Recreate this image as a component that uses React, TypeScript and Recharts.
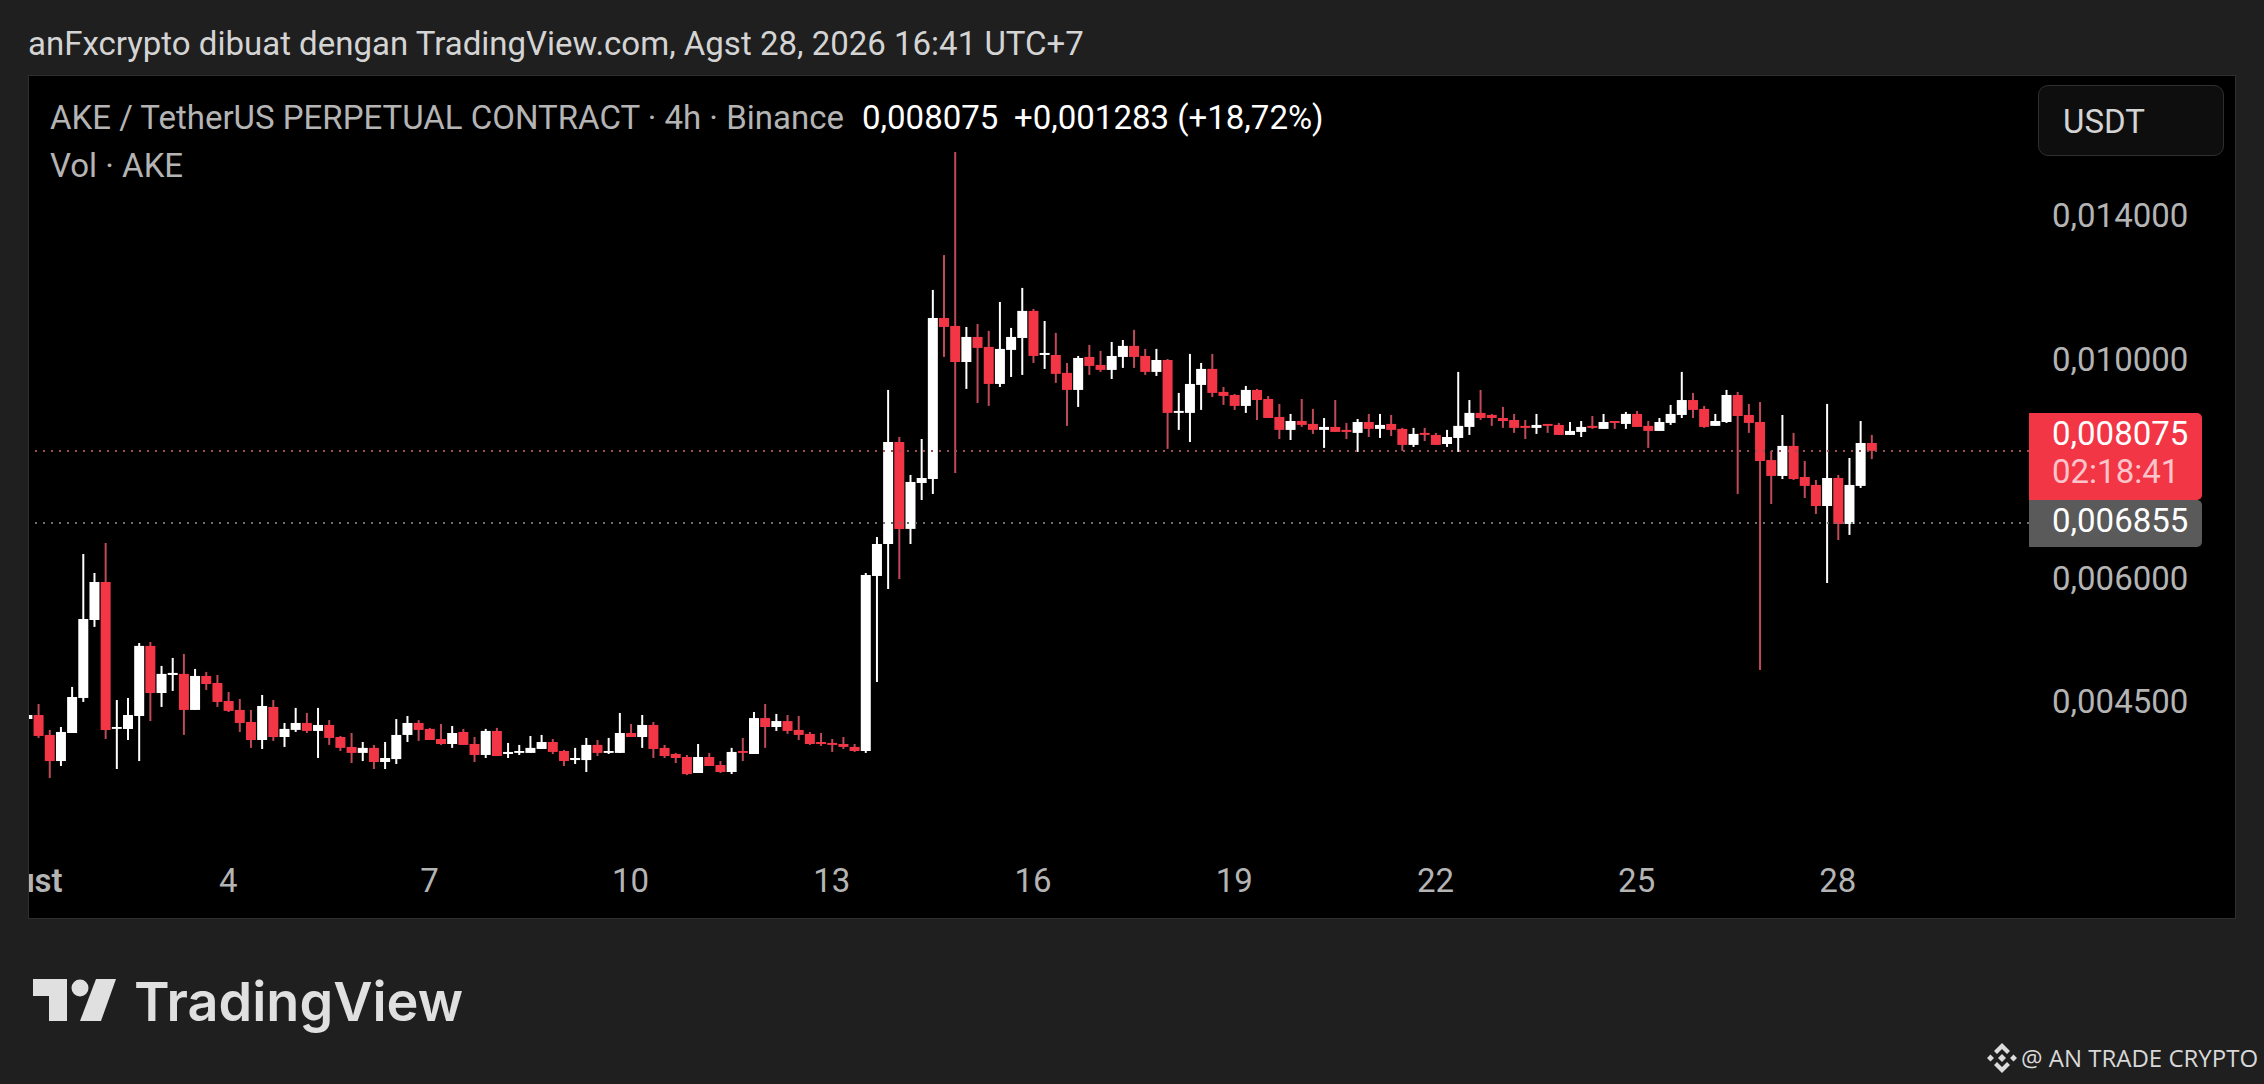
import { Bar, Cell, ComposedChart, ReferenceLine, XAxis, YAxis } from 'recharts'

const highs = [
  0.00436, 0.004474, 0.004211, 0.00424, 0.004655, 0.006348, 0.006073, 0.006513, 0.004515, 0.004537,
  0.005158, 0.00517, 0.004889, 0.004981, 0.005028, 0.004855, 0.004821, 0.004787, 0.004601, 0.004526,
  0.004412, 0.004569, 0.004515, 0.00428, 0.004433, 0.004381, 0.004433, 0.004309, 0.004152, 0.004181,
  0.004094, 0.004066, 0.004094, 0.004319, 0.00435, 0.004309, 0.004231, 0.00427, 0.00425, 0.004221,
  0.004142, 0.004221, 0.004231, 0.004085, 0.004066, 0.004152, 0.004162, 0.004123, 0.004019, 0.004038,
  0.004133, 0.004113, 0.004133, 0.004381, 0.00427, 0.00436, 0.00429, 0.004066, 0.003991, 0.003972,
  0.004075, 0.003991, 0.003916, 0.004038, 0.004133, 0.004391, 0.004474, 0.004371, 0.00436, 0.00435,
  0.004191, 0.004181, 0.004123, 0.004142, 0.004075, 0.006073, 0.006605, 0.009309, 0.008341, 0.007634,
  0.008302, 0.011756, 0.012752, 0.016216, 0.010783, 0.010858, 0.010684, 0.01143, 0.010758, 0.011811,
  0.011246, 0.010933, 0.010634, 0.009914, 0.010077, 0.010339, 0.010196, 0.010411, 0.010459, 0.010709,
  0.010244, 0.010244, 0.010006, 0.009244, 0.010125, 0.009914, 0.010125, 0.009374, 0.009222, 0.009396,
  0.009331, 0.009179, 0.00901, 0.008802, 0.009114, 0.008906, 0.008719, 0.009092, 0.008619, 0.008699,
  0.008802, 0.008802, 0.008781, 0.00852, 0.00852, 0.00852, 0.008421, 0.00848, 0.009709, 0.009092,
  0.009309, 0.008802, 0.008947, 0.008802, 0.008678, 0.008802, 0.008599, 0.008619, 0.008638, 0.008658,
  0.00876, 0.008802, 0.008658, 0.008844, 0.008864, 0.008658, 0.008719, 0.008989, 0.009709, 0.009244,
  0.008968, 0.008802, 0.009309, 0.009266, 0.00901, 0.009051, 0.008074, 0.008781, 0.008421, 0.007886,
  0.007544, 0.00901, 0.007634, 0.007942, 0.008658, 0.008381,
]

const lows = [
  0.004319, 0.004133, 0.003764, 0.003871, 0.004181, 0.004495, 0.005355, 0.004123, 0.003844, 0.004113,
  0.003916, 0.004299, 0.004443, 0.004612, 0.004162, 0.004412, 0.004623, 0.004443, 0.004391, 0.004191,
  0.004038, 0.004028, 0.004104, 0.004047, 0.004191, 0.004181, 0.003944, 0.004066, 0.004009, 0.003898,
  0.003916, 0.003844, 0.003844, 0.003889, 0.004094, 0.004104, 0.004113, 0.004066, 0.004038, 0.004066,
  0.003907, 0.003944, 0.003962, 0.003944, 0.003972, 0.003991, 0.004028, 0.003981, 0.003871, 0.003889,
  0.003817, 0.003962, 0.003981, 0.003991, 0.004142, 0.004038, 0.003944, 0.003944, 0.003898, 0.00379,
  0.003808, 0.003871, 0.003808, 0.003799, 0.003916, 0.003981, 0.004038, 0.004201, 0.004172, 0.004113,
  0.004066, 0.004057, 0.004, 0.004028, 0.004, 0.003991, 0.004709, 0.00585, 0.005988, 0.006498,
  0.0072, 0.007303, 0.010054, 0.00767, 0.009331, 0.00903, 0.008968, 0.009374, 0.009595, 0.009641,
  0.009914, 0.009777, 0.009462, 0.00856, 0.008947, 0.009641, 0.009709, 0.00955, 0.0098, 0.0098,
  0.009641, 0.009618, 0.008112, 0.00848, 0.008244, 0.008885, 0.009157, 0.008989, 0.008885, 0.008823,
  0.008678, 0.008719, 0.008302, 0.008282, 0.008539, 0.008401, 0.008131, 0.00844, 0.008302, 0.008055,
  0.008341, 0.008322, 0.008361, 0.008074, 0.00815, 0.008263, 0.008188, 0.00815, 0.008055, 0.008381,
  0.008678, 0.00856, 0.00852, 0.008421, 0.008302, 0.008401, 0.008421, 0.008381, 0.008381, 0.008341,
  0.0085, 0.0085, 0.0085, 0.0085, 0.008539, 0.008131, 0.00846, 0.008579, 0.008719, 0.008719,
  0.00852, 0.00856, 0.008619, 0.007303, 0.008421, 0.004844, 0.007134, 0.007562, 0.007544, 0.007234,
  0.00697, 0.005933, 0.006558, 0.006637, 0.007406, 0.007922,
]

const opens = [
  0.004319, 0.00436, 0.004162, 0.003916, 0.004181, 0.004537, 0.005442, 0.005947, 0.004221, 0.004221,
  0.00435, 0.005123, 0.00459, 0.004787, 0.004799, 0.004412, 0.004776, 0.004698, 0.004505, 0.004412,
  0.00429, 0.004113, 0.004443, 0.004142, 0.004211, 0.00428, 0.004201, 0.00426, 0.004142, 0.004047,
  0.003991, 0.004038, 0.003907, 0.003934, 0.004162, 0.00428, 0.004221, 0.004123, 0.004075, 0.004191,
  0.004075, 0.003972, 0.004201, 0.003981, 0.003991, 0.003991, 0.004028, 0.004094, 0.004009, 0.003925,
  0.003925, 0.004066, 0.003991, 0.003991, 0.004181, 0.004142, 0.00426, 0.004038, 0.003981, 0.003953,
  0.003808, 0.003953, 0.00388, 0.003817, 0.004009, 0.003981, 0.004329, 0.00424, 0.004299, 0.004211,
  0.004172, 0.004094, 0.004085, 0.004075, 0.004047, 0.004009, 0.006031, 0.006498, 0.008244, 0.006731,
  0.007492, 0.007562, 0.01101, 0.010808, 0.009936, 0.010534, 0.010292, 0.00944, 0.01022, 0.010509,
  0.011194, 0.0101, 0.0101, 0.009687, 0.009309, 0.010054, 0.009868, 0.009754, 0.010054, 0.010316,
  0.010077, 0.009709, 0.009982, 0.008823, 0.008823, 0.009418, 0.009777, 0.009266, 0.0092, 0.008968,
  0.009309, 0.009114, 0.00874, 0.00848, 0.008658, 0.008599, 0.00848, 0.008539, 0.00848, 0.008421,
  0.008638, 0.0085, 0.008599, 0.0085, 0.008188, 0.008421, 0.008381, 0.008206, 0.008322, 0.008539,
  0.008823, 0.008781, 0.008719, 0.008678, 0.00856, 0.00852, 0.008599, 0.008579, 0.008381, 0.00844,
  0.00856, 0.0085, 0.008658, 0.008599, 0.008802, 0.00856, 0.00846, 0.008619, 0.008781, 0.009092,
  0.008906, 0.00856, 0.008638, 0.0092, 0.008781, 0.008638, 0.007904, 0.007616, 0.008169, 0.007598,
  0.007458, 0.0071, 0.00758, 0.006809, 0.007441, 0.008225,
]

const closes = [
  0.00436, 0.004152, 0.003916, 0.004191, 0.004547, 0.005455, 0.005947, 0.004211, 0.00424, 0.00436,
  0.005123, 0.00459, 0.004799, 0.00481, 0.004412, 0.004776, 0.004687, 0.004495, 0.004402, 0.00428,
  0.004113, 0.004453, 0.004142, 0.004221, 0.00428, 0.004201, 0.00426, 0.004133, 0.004038, 0.003991,
  0.004038, 0.003907, 0.003944, 0.004162, 0.00428, 0.004211, 0.004113, 0.004075, 0.004181, 0.004066,
  0.003972, 0.004201, 0.003962, 0.004, 0.004009, 0.004038, 0.004094, 0.004, 0.003916, 0.003944,
  0.004066, 0.003991, 0.004009, 0.004181, 0.004142, 0.00426, 0.004028, 0.003962, 0.003944, 0.003799,
  0.003953, 0.003871, 0.003817, 0.004, 0.003991, 0.004329, 0.00424, 0.004299, 0.004201, 0.004162,
  0.004075, 0.004075, 0.004066, 0.004047, 0.004009, 0.006045, 0.006498, 0.008244, 0.006731, 0.00751,
  0.00758, 0.01101, 0.010783, 0.009936, 0.010534, 0.010268, 0.00944, 0.010244, 0.010534, 0.011194,
  0.010077, 0.010148, 0.009664, 0.009309, 0.01003, 0.009845, 0.009754, 0.010077, 0.010316, 0.010054,
  0.009709, 0.009982, 0.008823, 0.008864, 0.00944, 0.009777, 0.009244, 0.009179, 0.008968, 0.009309,
  0.009092, 0.008719, 0.00848, 0.008658, 0.008579, 0.00848, 0.008539, 0.00844, 0.00844, 0.008638,
  0.0085, 0.008579, 0.00848, 0.008188, 0.008401, 0.008381, 0.008188, 0.008341, 0.00856, 0.008823,
  0.008719, 0.008719, 0.008658, 0.00852, 0.00852, 0.008579, 0.00856, 0.008381, 0.00846, 0.008539,
  0.00852, 0.008638, 0.008619, 0.008802, 0.008539, 0.00846, 0.008638, 0.008802, 0.009092, 0.008885,
  0.008539, 0.008658, 0.0092, 0.00876, 0.008619, 0.007886, 0.007616, 0.008169, 0.007562, 0.007441,
  0.0071, 0.00758, 0.006809, 0.007458, 0.008225, 0.008075,
]

const dateTicks = [0, 18, 36, 54, 72, 90, 108, 126, 144, 162]
const dateLabels = ['Agust', '4', '7', '10', '13', '16', '19', '22', '25', '28']
const priceTicks = [0.0045, 0.006, 0.01, 0.014]
const lastPrice = 0.008075
// where the grey line sits on the picture; its tag reads 0,006855
const prevPriceLine = 0.006825

const candles = closes.map((close, i) => ({
  idx: i,
  wick: [lows[i], highs[i]],
  body: [Math.min(opens[i], close), Math.max(opens[i], close)],
  up: close >= opens[i],
}))

const UP = '#ffffff'
const DOWN = '#f23645'
const DOWN_WICK = '#bf4a58'
const BG = '#1f1f1f'
const FONT = 'Roboto, sans-serif'

const formatPrice = (v: number) => v.toFixed(6).replace('.', ',')

function DateTick({ x, y, payload }: any) {
  const pos = dateTicks.indexOf(payload.value)
  return (
    <text
      x={pos === 0 ? x - 8 : x}
      y={y}
      dy={34}
      textAnchor="middle"
      fill="#b4b4b4"
      fontFamily={FONT}
      fontSize={33}
      fontWeight={pos === 0 ? 600 : 400}
    >
      {dateLabels[pos]}
    </text>
  )
}

function Label({ x, y, color, size = 33, weight = 400, family = FONT, children }: any) {
  return (
    <div
      style={{
        position: 'absolute',
        left: x,
        top: y,
        transform: 'translateY(-50%)',
        color,
        fontFamily: family,
        fontSize: size,
        fontWeight: weight,
        lineHeight: 1,
        whiteSpace: 'nowrap',
      }}
    >
      {children}
    </div>
  )
}

export default function App() {
  return (
    <div style={{ position: 'absolute', left: 0, top: 0, width: 2264, height: 1084, background: BG, overflow: 'hidden' }}>
      <div style={{ position: 'absolute', left: 28, top: 75, width: 2208, height: 844, background: '#000', boxSizing: 'border-box' }} />

      <div style={{ position: 'absolute', left: 0, top: 0 }}>
        <ComposedChart
          width={2264}
          height={1084}
          data={candles}
          margin={{ top: 76, right: 0, bottom: 166, left: 21.4 }}
          barGap={0}
        >
          <XAxis
            xAxisId="body"
            dataKey="idx"
            ticks={dateTicks}
            interval={0}
            height={68}
            tick={DateTick}
            tickLine={false}
            axisLine={false}
            padding={{ left: 0, right: 152 }}
          />
          <XAxis xAxisId="wick" dataKey="idx" hide padding={{ left: 0, right: 152 }} />
          <YAxis
            orientation="right"
            scale="log"
            domain={[0.003182, 0.019365]}
            allowDataOverflow
            ticks={priceTicks}
            interval={0}
            width={235}
            tickLine={false}
            axisLine={false}
            tickMargin={17}
            tickFormatter={formatPrice}
            tick={{ fill: '#b4b4b4', fontFamily: FONT, fontSize: 33, textAnchor: 'start' }}
          />
          <Bar xAxisId="wick" dataKey="wick" barSize={2} isAnimationActive={false}>
            {candles.map((c) => (
              <Cell key={c.idx} fill={c.up ? UP : DOWN_WICK} />
            ))}
          </Bar>
          <Bar xAxisId="body" dataKey="body" barSize={10} isAnimationActive={false}>
            {candles.map((c) => (
              <Cell key={c.idx} fill={c.up ? UP : DOWN} />
            ))}
          </Bar>
          <ReferenceLine xAxisId="body" y={lastPrice} stroke="#9a4f57" strokeWidth={2} strokeDasharray="2 6" />
          <ReferenceLine xAxisId="body" y={prevPriceLine} stroke="#6e6e6e" strokeWidth={2} strokeDasharray="2 6" />
        </ComposedChart>
      </div>

      {/* frame pieces that clip the chart at the panel edge */}
      <div style={{ position: 'absolute', left: 0, top: 75, width: 28, height: 844, background: BG }} />
      <div style={{ position: 'absolute', left: 28, top: 75, width: 2208, height: 844, boxSizing: 'border-box', border: '1px solid #2f2f2f' }} />

      <Label x={28} y={43} color="#d4d4d4">anFxcrypto dibuat dengan TradingView.com, Agst 28, 2026 16:41 UTC+7</Label>
      <Label x={50} y={117} color="#b4b4b4">AKE / TetherUS PERPETUAL CONTRACT · 4h · Binance</Label>
      <Label x={862} y={117} color="#ffffff">0,008075</Label>
      <Label x={1014} y={117} color="#ffffff">+0,001283 (+18,72%)</Label>
      <Label x={50} y={165} color="#b4b4b4">Vol · AKE</Label>

      <div style={{ position: 'absolute', left: 2038, top: 85, width: 186, height: 71, boxSizing: 'border-box', borderRadius: 10, border: '1px solid #2f2f2f', background: '#0e0e0e' }} />
      <Label x={2063} y={121} color="#d4d4d4">USDT</Label>

      <div style={{ position: 'absolute', left: 2029, top: 413, width: 173, height: 87, background: DOWN, borderRadius: '0 5px 5px 0' }} />
      <Label x={2052} y={433} color="#ffffff">0,008075</Label>
      <Label x={2052} y={471} color="#fbc4ca">02:18:41</Label>
      <div style={{ position: 'absolute', left: 2029, top: 500, width: 173, height: 47, background: '#5a5a5a', borderRadius: '0 5px 5px 0' }} />
      <Label x={2052} y={520} color="#ffffff">0,006855</Label>

      <svg style={{ position: 'absolute', left: 0, top: 960 }} width={130} height={80}>
        <path d="M33 19 H67 V61 H49 V36 H33 Z" fill="#e0e0e0" />
        <circle cx={80} cy={28} r={8.5} fill="#e0e0e0" />
        <path d="M96 19 H116 L101 61 H80 Z" fill="#e0e0e0" />
      </svg>
      <Label x={134} y={1002} color="#e0e0e0" size={54} weight={600} family="Inter, sans-serif">TradingView</Label>

      <svg style={{ position: 'absolute', left: 1986, top: 1042 }} width={32} height={32}>
        <path d="M16 1 L24 9 L21 12 L16 7 L11 12 L8 9 Z M16 31 L24 23 L21 20 L16 25 L11 20 L8 23 Z M1 16 L4.5 12.5 L8 16 L4.5 19.5 Z M24 16 L27.5 12.5 L31 16 L27.5 19.5 Z M16 12 L20 16 L16 20 L12 16 Z" fill="#dcdcdc" />
      </svg>
      <Label x={2021} y={1058} color="#d8d8d8" size={24} family="'Open Sans', sans-serif">@ AN TRADE CRYPTO</Label>
    </div>
  )
}
